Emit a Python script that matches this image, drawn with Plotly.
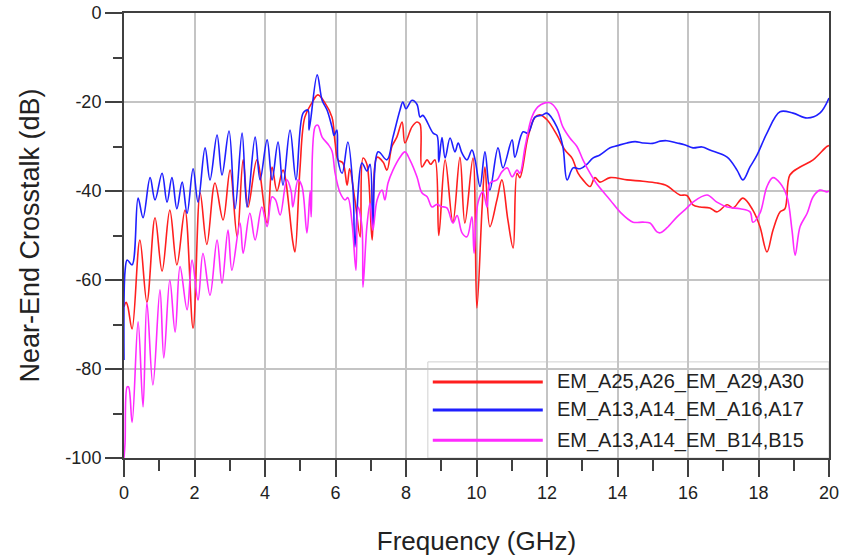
import plotly.graph_objects as go

# ---------------- data (GHz, dB) ----------------
red_x = [0.00, 0.06, 0.11, 0.23, 0.45, 0.65, 0.88, 1.08, 1.30, 1.50, 1.73, 1.96, 2.16, 2.35, 2.58, 2.81,
         3.01, 3.21, 3.38, 3.52, 3.77, 4.06, 4.20, 4.34, 4.51, 4.79, 4.85, 4.99, 5.13, 5.33, 5.50, 5.70,
         5.90, 5.99, 6.07, 6.21, 6.33, 6.40, 6.55, 6.70, 6.78, 6.89, 7.04, 7.18, 7.35, 7.46, 7.60, 7.74,
         7.89, 7.97, 8.17, 8.31, 8.40, 8.45, 8.60, 8.70, 8.82, 8.93, 9.11, 9.33, 9.53, 9.67, 9.90, 10.01,
         10.16, 10.24, 10.38, 10.58, 10.72, 10.89, 11.04, 11.15, 11.23, 11.46, 11.66, 11.80, 12.00, 12.28,
         12.51, 12.71, 12.88, 13.02, 13.22, 13.36, 13.50, 13.79, 14.27, 14.72, 15.12, 15.40, 15.57, 15.77,
         15.97, 16.14, 16.34, 16.62, 16.82, 17.11, 17.28, 17.56, 17.84, 18.04, 18.24, 18.41, 18.61, 18.75,
         18.89, 19.18, 19.55, 19.94, 20.00]
red_y = [-66, -65, -66, -71, -51, -65, -46, -58, -44.3, -56.6, -44.3, -70.8, -40.4, -52, -38.2, -46.5,
         -35.3, -50.3, -33, -43.6, -33, -47.2, -34.6, -40, -35.3, -51.5, -53.7, -35.3, -23.4, -20.2, -18.4, -20.2,
         -23.4, -29.2, -33, -33.7, -38.7, -35, -42, -50.3, -32.6, -34, -51, -32.4, -33.5, -35.3, -30, -27.9,
         -24.5, -29.2, -25.6, -24.5, -25, -34.6, -33, -34, -33, -50, -33, -47, -32.4, -47.2, -32.6, -66.3,
         -43.6, -34.6, -48, -42, -37.5, -46.5, -52.8, -36, -37, -27.9, -23.4, -22.9, -24, -27.4,
         -30.8, -32.6, -36, -37.5, -39, -37, -38, -37, -37.5, -37.8, -38.2, -38.8, -39.8, -40.9,
         -41, -43.1, -43.6, -43.8, -44.7, -43.1, -43.8, -41.6, -44.3, -48, -53.7, -48.8, -44.7, -44,
         -36.4, -34.6, -33, -30, -29.8]

blue_x = [0.00, 0.03, 0.09, 0.23, 0.40, 0.54, 0.74, 0.88, 1.08, 1.22, 1.36, 1.50, 1.65, 1.79, 1.96, 2.10,
          2.30, 2.44, 2.64, 2.78, 2.98, 3.15, 3.35, 3.49, 3.72, 3.86, 4.06, 4.20, 4.37, 4.51, 4.71, 4.88,
          5.08, 5.22, 5.25, 5.48, 5.62, 5.76, 5.90, 5.96, 6.04, 6.07, 6.19, 6.35, 6.50, 6.55, 6.75, 6.89,
          6.98, 7.06, 7.21, 7.46, 7.63, 7.83, 7.91, 8.00, 8.17, 8.31, 8.40, 8.48, 8.77, 8.88, 8.93, 9.02,
          9.11, 9.25, 9.39, 9.48, 9.59, 9.73, 9.87, 9.96, 10.10, 10.24, 10.38, 10.61, 10.75, 11.01, 11.09,
          11.32, 11.46, 11.66, 11.86, 12.00, 12.28, 12.45, 12.57, 12.74, 12.94, 13.13, 13.30, 13.50, 13.79,
          14.00, 14.27, 14.50, 14.72, 15.00, 15.21, 15.40, 15.69, 15.90, 16.14, 16.40, 16.62, 17.11, 17.39,
          17.56, 17.76, 17.96, 18.24, 18.61, 18.98, 19.38, 19.74, 20.00]
blue_y = [-78, -58, -55.5, -56.6, -41.6, -46, -37, -42, -36, -42.5, -37, -44, -38, -45, -35, -42.5,
          -30.3, -37.5, -27.4, -36.4, -26.5, -44, -27, -43.6, -27.9, -37.5, -28.5, -37.5, -29, -38.7, -26.3, -37.5,
          -22.5, -21.8, -26.3, -13.9, -19.6, -21.8, -25.6, -27.5, -26.3, -33, -36, -29, -40, -52.6, -33.7, -35.5,
          -34, -48, -31.2, -33, -27.9, -21.8, -20, -21.5, -19.6, -20.5, -23.4, -23, -27, -27.5, -33.5, -28,
          -32.6, -28.1, -31.2, -29.2, -31.5, -33, -30.8, -33, -39, -31.2, -39.8, -30.3, -34.8, -28.5, -32.4,
          -26.7, -27, -23.4, -23, -22.5, -25.6, -30, -37.5, -34.8, -35, -34, -32.6, -31.9, -30.3,
          -29.8, -29.2, -28.9, -29.2, -29.3, -28.8, -28.7, -29.2, -29.6, -30.3, -30.1, -30.8, -32.4, -35.3,
          -37.5, -34.6, -31.9, -27, -22.2, -22.5, -23.6, -22.5, -19.1]

mag_x = [0.00, 0.03, 0.09, 0.13, 0.23, 0.40, 0.54, 0.65, 0.82, 1.02, 1.13, 1.30, 1.45, 1.59, 1.79, 1.93,
         2.10, 2.24, 2.44, 2.64, 2.78, 2.95, 3.06, 3.29, 3.38, 3.57, 3.72, 3.91, 4.06, 4.20, 4.30, 4.43,
         4.62, 4.74, 4.79, 4.94, 5.05, 5.19, 5.28, 5.31, 5.42, 5.50, 5.62, 5.79, 5.90, 5.99, 6.13, 6.27,
         6.35, 6.47, 6.58, 6.64, 6.75, 6.78, 6.89, 6.98, 7.06, 7.18, 7.32, 7.40, 7.49, 7.63, 7.83, 7.97,
         8.11, 8.31, 8.45, 8.60, 8.74, 8.88, 9.00, 9.16, 9.33, 9.45, 9.59, 9.73, 9.87, 9.93, 10.04, 10.18,
         10.30, 10.38, 10.58, 10.72, 10.87, 11.01, 11.15, 11.23, 11.38, 11.57, 11.74, 11.94, 12.09, 12.28,
         12.45, 12.65, 12.85, 13.02, 13.22, 13.42, 13.79, 14.07, 14.44, 14.72, 14.92, 15.12, 15.21, 15.40,
         15.69, 15.97, 16.14, 16.54, 16.82, 17.11, 17.48, 17.76, 17.84, 18.04, 18.24, 18.41, 18.61, 18.81,
         18.95, 19.04, 19.18, 19.38, 19.55, 19.74, 19.94, 20.00]
mag_y = [-100, -96.6, -84, -84, -92, -69.4, -88.5, -65, -83.6, -62.2, -77.5, -60, -71.7, -57, -66.7, -55.5,
         -64.5, -54, -63.4, -51, -60.7, -48.8, -57.8, -47.2, -54, -45, -51, -43.6, -48, -41.3, -42, -45.4,
         -37.5, -40, -43.6, -37.5, -39, -49.4, -40, -45.8, -25.6, -25.2, -27.9, -29.5, -31, -36, -40.4, -42,
         -41.5, -47.2, -57.8, -43.6, -48, -61.6, -48, -42.7, -48.8, -42, -39.8, -42, -38.2, -35.3, -32.4, -31.2,
         -33, -36.8, -40.4, -41.3, -43.6, -43, -43.5, -43.8, -47.2, -45.5, -49.4, -50.3, -45.8, -54, -42.7, -40.2,
         -43.6, -38.2, -37.5, -35.7, -34.8, -36.8, -35.3, -36, -30, -23.4, -21.1, -20.2, -20.2, -21.8,
         -25.6, -28.1, -30, -33, -36, -38.5, -42, -44.7, -47, -47, -47.2, -49.2, -49.4, -48.3,
         -45.8, -43.8, -42.5, -40.9, -42.5, -43.6, -44, -44.7, -47, -45, -39, -37, -38.2, -41.3,
         -48.8, -54.4, -48, -45, -41.3, -39.8, -40.2, -40]

series_names = ["EM_A25,A26_EM_A29,A30", "EM_A13,A14_EM_A16,A17", "EM_A13,A14_EM_B14,B15"]
series_colors = ["#ff1f1f", "#1f1fff", "#ff2bff"]

x_tickvals = [0, 2, 4, 6, 8, 10, 12, 14, 16, 18, 20]
x_ticktext = ["0", "2", "4", "6", "8", "10", "12", "14", "16", "18", "20"]
y_tickvals = [0, -20, -40, -60, -80, -100]
y_ticktext = ["0", "-20", "-40", "-60", "-80", "-100"]

FONT = "Liberation Sans, Arial, sans-serif"

fig = go.Figure()
for xs, ys, name, col in zip([red_x, blue_x, mag_x], [red_y, blue_y, mag_y], series_names, series_colors):
    fig.add_trace(go.Scatter(x=xs, y=ys, mode="lines", name=name,
                             line=dict(color=col, width=1.6, shape="spline", smoothing=1.0),
                             showlegend=False, cliponaxis=True))

axis_common = dict(showline=True, linecolor="#404040", linewidth=2, mirror=True,
                   showgrid=True, gridcolor="#c4c4c4", gridwidth=1.5, zeroline=False,
                   ticks="outside", tickcolor="#404040", tickwidth=1.5, automargin=False,
                   tickfont=dict(family=FONT, size=18, color="#222"))

fig.update_xaxes(range=[0, 20], tickvals=x_tickvals, ticktext=x_ticktext, ticklen=17,
                 minor=dict(dtick=1, tick0=0, ticks="outside", ticklen=11, tickcolor="#404040", showgrid=False),
                 title=dict(text="Frequency (GHz)", font=dict(family=FONT, size=26, color="#222"), standoff=30),
                 **axis_common)
fig.update_yaxes(range=[-100, 0], tickvals=y_tickvals, ticktext=y_ticktext, ticklen=17,
                 minor=dict(dtick=10, tick0=0, ticks="outside", ticklen=9, tickcolor="#404040", showgrid=False),
                 title=dict(text="Near-End Crosstalk (dB)", font=dict(family=FONT, size=27, color="#222"), standoff=18),
                 **axis_common)

# custom legend box (decoration)
shapes = [dict(type="rect", xref="paper", yref="paper", x0=0.431, x1=1.0, y0=0.0, y1=0.216,
               fillcolor="white", line=dict(color="#d0d0d0", width=1), layer="between")]
annots = []
leg_y = [0.171, 0.108, 0.040]
for i, (name, col) in enumerate(zip(series_names, series_colors)):
    shapes.append(dict(type="line", xref="paper", yref="paper", x0=0.438, x1=0.594,
                       y0=leg_y[i], y1=leg_y[i], line=dict(color=col, width=3), layer="above"))
    annots.append(dict(xref="paper", yref="paper", x=0.611, y=leg_y[i], xanchor="left", yanchor="middle",
                       text=name, showarrow=False, font=dict(family=FONT, size=20, color="#222")))

fig.update_layout(width=844, height=558, margin=dict(l=124, r=15, t=13, b=100),
                  paper_bgcolor="white", plot_bgcolor="white",
                  shapes=shapes, annotations=annots, showlegend=False)

fig.write_html("out.html")
